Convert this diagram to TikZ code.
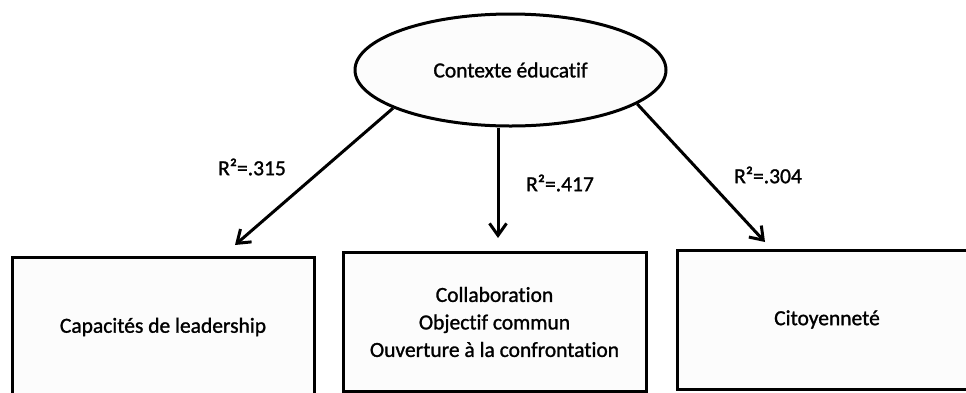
\documentclass[tikz,border=0pt]{standalone}
\usepackage{fontspec}
\setmainfont{Carlito}[Ligatures=NoCommon,FakeBold=1.2]
\usetikzlibrary{
  shapes.geometric, % ellipse
  arrows.meta
}
\definecolor{boxfill}{RGB}{252,252,252}
\def\myboxh{139pt}
\tikzset{
  font=\fontsize{21.5}{27.5}\selectfont,
  >={Straight Barb[length=12pt,width=17pt]},
  my box/.style={
    draw,
    fill=boxfill,
    rectangle,
    inner sep=0pt,
    align=center,
    minimum height=\myboxh
  },
  my ellipse/.style={
    draw,
    fill=boxfill,
    ellipse,
    inner sep=0pt,
    minimum width=311pt,
    minimum height=112pt
  },
  r label/.style={inner sep=0pt}
}

\begin{document}
\begin{tikzpicture}[x=1pt,y=-1pt,line width=3pt]
\useasboundingbox (0,0) rectangle (966,392);
\clip (0,0) rectangle (966,392);
\node[my ellipse] (ctx) at (510.5,70) {Contexte éducatif};
\node[my box,minimum width=302pt] (lead) at (163,327) {Capacités de leadership};
\node[my box,minimum width=303pt] (collab) at (494.5,322)
  {Collaboration\\Objectif commun\\Ouverture à la confrontation};
\node[my box,minimum width=300pt] (citiz) at (827,319.5) {Citoyenneté};
% free ends of the arrows, just above the boxes
\coordinate (lead tip) at (235,245);
\coordinate (collab tip) at (498,238);
\coordinate (citiz tip) at (765,242);
\path[->] (ctx.198) edge (lead tip)
          (ctx.south -| collab tip) edge (collab tip)
          (ctx.345) edge (citiz tip);
\node[r label] (r lead) at (252,167) {R²=.315};
\node[r label] (r collab) at (560,183) {R²=.417};
\node[r label] (r citiz) at (768,175) {R²=.304};
\end{tikzpicture}
\end{document}
